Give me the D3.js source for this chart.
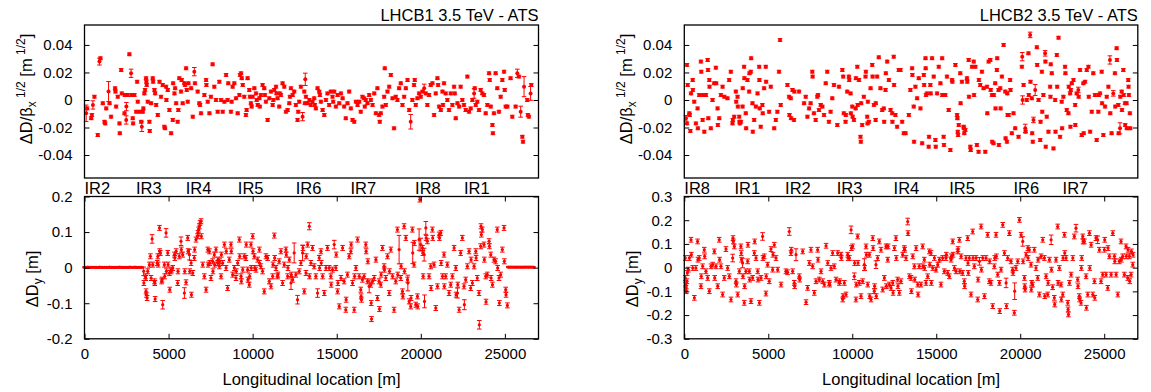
<!DOCTYPE html>
<html><head><meta charset="utf-8">
<script src="https://cdn.jsdelivr.net/npm/d3@7"></script>
<style>body{margin:0;background:#fff}svg{display:block}</style>
</head><body>
<script>
// ---------------- DATA ----------------
const xTicks = [0, 5000, 10000, 15000, 20000, 25000];
const topYTicks = [-0.04, -0.02, 0, 0.02, 0.04];
const b1vYTicks = [-0.2, -0.1, 0, 0.1, 0.2];
const b2vYTicks = [-0.3, -0.2, -0.1, 0, 0.1, 0.2, 0.3];
const irNamesB1 = ["IR2","IR3","IR4","IR5","IR6","IR7","IR8","IR1"];
const irPosB1 = [0, 3060, 6020, 9120, 12560, 15820, 19660, 22570];
const irNamesB2 = ["IR8","IR1","IR2","IR3","IR4","IR5","IR6","IR7"];
const irPosB2 = [0, 2990, 6000, 9070, 12460, 15770, 19600, 22520];
const titleB1 = "LHCB1 3.5 TeV - ATS";
const titleB2 = "LHCB2 3.5 TeV - ATS";
const xLabel = "Longitudinal location [m]";

// Beam 1, horizontal normalized dispersion beat
const b1hPos = [
100,160,400,440,500,590,790,890,950,1090,
1190,1230,1290,1430,1490,1580,1820,1840,1880,1980,
2080,2100,2180,2220,2380,2400,2480,2490,2570,2670,
2770,2790,2870,2890,2970,3070,3130,3170,3270,3370,
3410,3470,3500,3560,3600,3660,3680,3700,3760,3860,
3880,3960,4060,4080,4160,4200,4260,4360,4460,4550,
4650,4750,4790,4850,4870,4950,5050,5150,5250,5270,
5350,5390,5450,5540,5580,5640,5740,5780,5840,5940,
5980,6040,6080,6140,6180,6340,6440,6530,6570,6730,
6830,6870,6930,7130,7230,7250,7330,7430,7520,7620,
7720,7820,7920,8020,8120,8220,8320,8420,8510,8550,
8710,8750,8810,8910,9010,9110,9210,9250,9310,9350,
9410,9500,9600,9640,9700,9800,9840,9900,9940,10000,
10100,10200,10240,10300,10400,10430,10490,10590,10690,10730,
10790,10890,10990,11090,11190,11230,11290,11390,11420,11480,
11580,11620,11680,11780,11880,11980,12080,12180,12220,12280,
12380,12470,12570,12670,12710,12770,12870,12970,13070,13110,
13130,13170,13270,13370,13460,13560,13660,13700,13760,13860,
13960,14000,14060,14160,14260,14360,14450,14550,14650,14750,
14790,14850,14950,15050,15150,15250,15350,15440,15540,15640,
15740,15840,15940,16040,16140,16240,16340,16430,16530,16630,
16670,16730,16830,16930,17030,17130,17230,17330,17420,17520,
17560,17620,17720,17820,17860,17920,18020,18120,18220,18320,
18410,18510,18610,18710,18810,18910,19010,19110,19210,19310,
19400,19500,19600,19640,19700,19800,19900,20000,20100,20200,
20300,20390,20490,20590,20690,20790,20890,20990,21030,21090,
21190,21290,21320,21380,21480,21580,21680,21780,21880,21980,
22020,22080,22180,22280,22370,22470,22570,22670,22770,22870,
22970,23070,23170,23210,23270,23360,23460,23560,23660,23760,
23860,23960,24060,24100,24160,24260,24290,24350,24450,24550,
24650,24750,24850,24950,24990,25050,25150,25340,25440,25640,
25740,25840,25940,26040,26080,26140,26330,26370,26430,26530,
26570];
const b1hVal = [
-0.0097,-0.0061,-0.0133,-0.0109,-0.0036,0.0024,-0.0255,0.0279,0.0303,-0.0024,
-0.0158,-0.0170,-0.0061,0.0061,-0.0024,-0.0121,0.0085,0.0061,-0.0048,0.0024,
-0.0170,-0.0242,0.0218,0.0048,-0.0097,0.0036,-0.0145,-0.0048,0.0036,0.0332,
0.0194,0.0036,-0.0133,-0.0170,0.0036,-0.0085,0.0133,-0.0012,-0.0085,-0.0158,
-0.0194,-0.0085,-0.0061,0.0048,0.0073,0.0158,0.0133,0.0109,-0.0012,-0.0158,
-0.0225,-0.0024,0.0158,0.0133,0.0073,0.0048,-0.0036,-0.0109,0.0133,0.0024,
0.0109,-0.0194,-0.0206,0.0097,0,0.0073,-0.0073,-0.0242,-0.0145,0.0121,
0.0048,0.0085,-0.0024,-0.0158,-0.0073,0.0158,0.0061,0.0145,-0.0024,0.0121,
0.0109,0.0230,0.0073,-0.0012,0.0121,0.0085,-0.0121,0.0206,0.0121,0.0061,
-0.0024,-0.0036,-0.0097,0.0036,0.0145,0.0109,-0.0012,-0.0097,0.0024,0.0259,
0.0097,0,-0.0085,0.0133,0,-0.0085,-0.0012,0.0182,0,0.0121,
-0.0085,-0.0012,0.0097,0.0121,0.0012,-0.0097,0.0036,0.0182,0.0194,0.0158,
0.0109,0.0024,-0.0109,-0.0073,0.0158,0.0073,0.0024,-0.0024,-0.0048,0.0024,
0.0085,0.0048,0,-0.0036,0.0012,-0.0048,0.0036,0.0109,0.0085,0.0036,
-0.0012,-0.0145,0.0012,0.0061,-0.0036,0,0.0073,0.0097,0.0048,0.0012,
-0.0048,0.0048,0.0036,0.0121,0.0097,-0.0085,-0.0073,-0.0024,0.0024,0.0085,
0.0036,0.0061,-0.0036,-0.0145,-0.0085,-0.0012,0.0097,-0.0121,0.0061,-0.0024,
0.0150,0.0024,-0.0024,0,-0.0036,-0.0012,0.0012,-0.0036,-0.0061,0.0085,
0.0061,0.0036,-0.0012,-0.0073,-0.0109,0,0.0048,-0.0036,0.0061,0.0024,
-0.0012,0.0061,-0.0048,0.0036,-0.0024,0.0048,0.0012,-0.0048,-0.0133,-0.0024,
0.0061,-0.0061,-0.0145,-0.0158,-0.0012,-0.0036,-0.0012,-0.0085,0.0024,0.0012,
-0.0048,0,-0.0024,0.0036,0,-0.0036,0.0048,-0.0097,0.0085,-0.0109,
-0.0158,-0.0097,-0.0048,0.0024,0.0230,-0.0036,0.0061,0.0097,0.0182,0.0012,
-0.0206,0.0024,0,0.0085,0.0121,-0.0036,0.0024,0.0085,0.0145,-0.0073,
-0.0158,0,0.0109,0.0145,-0.0036,0.0012,0.0048,0.0024,0.0061,0.0085,
0.0048,-0.0036,0.0036,0.0109,0.0121,-0.0109,0.0048,0.0158,0.0109,-0.0048,
-0.0073,0.0061,-0.0036,0.0121,0.0048,0,-0.0073,0.0048,-0.0036,0.0097,
0.0048,-0.0133,-0.0024,-0.0048,0.0097,0,-0.0036,-0.0073,0.0170,-0.0085,
-0.0061,0,0.0048,0.0085,-0.0036,-0.0012,-0.0073,0.0073,0.0048,0.0036,
-0.0097,-0.0036,0.0194,0.0145,-0.0048,-0.0182,-0.0242,-0.0097,0.0194,0.0085,
-0.0085,0.0024,0.0145,0.0206,0.0073,-0.0048,-0.0048,0.0158,-0.0121,-0.0048,
0.0194,0.0170,-0.0085,-0.0267,-0.0303,0.0097,0,-0.0109,-0.0121,0.0048,
0.0109];
const b1hErr = [
0.006,0.001,0.001,0.001,0.003,0.001,0.001,0.0025,0.001,0.001,
0.001,0.001,0.001,0.0073,0.001,0.001,0.001,0.001,0.001,0.001,
0.001,0.001,0.001,0.001,0.001,0.001,0.003,0.003,0.001,0.001,
0.003,0.001,0.001,0.001,0.001,0.001,0.001,0.001,0.001,0.001,
0.0035,0.001,0.001,0.001,0.001,0.001,0.001,0.001,0.001,0.001,
0.001,0.001,0.001,0.001,0.001,0.001,0.001,0.001,0.001,0.001,
0.001,0.001,0.001,0.001,0.001,0.001,0.001,0.001,0.001,0.001,
0.001,0.001,0.001,0.001,0.001,0.001,0.001,0.001,0.001,0.001,
0.001,0.001,0.001,0.001,0.001,0.001,0.001,0.003,0.001,0.001,
0.001,0.001,0.001,0.001,0.001,0.001,0.001,0.001,0.001,0.001,
0.001,0.001,0.001,0.001,0.001,0.001,0.001,0.001,0.001,0.001,
0.001,0.001,0.001,0.001,0.001,0.001,0.001,0.001,0.001,0.001,
0.001,0.001,0.001,0.001,0.001,0.001,0.001,0.001,0.001,0.001,
0.001,0.001,0.001,0.001,0.001,0.001,0.001,0.001,0.001,0.001,
0.001,0.001,0.001,0.001,0.001,0.001,0.001,0.001,0.001,0.001,
0.001,0.001,0.001,0.001,0.001,0.001,0.001,0.001,0.001,0.001,
0.001,0.001,0.001,0.001,0.001,0.001,0.001,0.003,0.001,0.001,
0.0045,0.001,0.001,0.001,0.001,0.001,0.001,0.001,0.001,0.001,
0.001,0.001,0.001,0.001,0.001,0.001,0.001,0.001,0.001,0.001,
0.001,0.001,0.001,0.001,0.001,0.001,0.001,0.001,0.001,0.001,
0.001,0.001,0.001,0.001,0.001,0.001,0.001,0.001,0.001,0.001,
0.001,0.001,0.001,0.001,0.001,0.001,0.001,0.001,0.001,0.001,
0.001,0.001,0.001,0.001,0.001,0.001,0.001,0.001,0.001,0.001,
0.001,0.001,0.001,0.001,0.001,0.001,0.001,0.001,0.001,0.001,
0.0053,0.001,0.001,0.001,0.001,0.001,0.001,0.001,0.001,0.003,
0.001,0.001,0.001,0.001,0.001,0.001,0.001,0.001,0.001,0.001,
0.001,0.001,0.001,0.001,0.001,0.001,0.001,0.001,0.001,0.001,
0.001,0.001,0.001,0.001,0.001,0.001,0.001,0.001,0.001,0.001,
0.001,0.001,0.0035,0.001,0.001,0.001,0.001,0.001,0.001,0.001,
0.001,0.001,0.001,0.001,0.001,0.001,0.001,0.001,0.001,0.001,
0.001,0.001,0.001,0.001,0.001,0.001,0.001,0.001,0.001,0.001,
0.003,0.001,0.004,0.001,0.001,0.0073,0.001,0.001,0.001,0.005,
0.001];

// Beam 2, horizontal normalized dispersion beat
const b2hPos = [
100,160,160,200,300,320,360,400,500,510,
590,690,790,810,890,990,1010,1090,1110,1190,
1290,1390,1410,1430,1490,1500,1580,1680,1780,1880,
1900,1980,2000,2080,2180,2280,2380,2570,2670,2770,
2870,2890,2970,3070,3090,3170,3190,3270,3290,3310,
3370,3470,3480,3560,3580,3660,3680,3760,3860,3880,
3960,3980,4060,4080,4160,4260,4360,4460,4470,4490,
4550,4650,4670,4750,4850,4870,5050,5150,5350,5450,
5540,5640,5700,5740,6140,6240,6260,6340,6360,6440,
6530,6550,6830,7130,7230,7330,7430,7520,7620,7640,
7720,7820,7920,7960,8020,8120,8220,8320,8420,8510,
8610,8710,8810,8910,9110,9210,9410,9460,9500,9600,
9620,9700,9800,9820,9900,9920,10000,10020,10100,10200,
10220,10300,10320,10400,10490,10510,10530,10590,10690,10790,
10810,10890,10910,10930,10990,11090,11190,11210,11290,11390,
11400,11480,11580,11680,11780,11880,11900,11980,12000,12080,
12180,12280,12380,12390,12470,12490,12570,12670,12770,12870,
12970,13070,13170,13370,13460,13560,13580,13660,13680,13760,
13860,13960,14060,14160,14260,14280,14360,14370,14390,14450,
14550,14570,14650,14670,14750,14850,14950,14970,15050,15150,
15250,15350,15360,15440,15460,15540,15640,15740,15840,15940,
15960,16140,16240,16260,16280,16300,16340,16430,16450,16530,
16630,16650,16670,16730,16830,16850,16930,16950,17030,17050,
17130,17230,17250,17330,17420,17520,17540,17620,17720,17820,
17920,18020,18040,18120,18220,18240,18320,18330,18410,18430,
18510,18530,18610,18630,18710,18730,18810,18830,18910,19010,
19110,19130,19210,19230,19250,19310,19400,19420,19500,19600,
19700,19900,20100,20120,20140,20200,20300,20320,20390,20490,
20510,20590,20610,20690,20710,20750,20790,20890,20990,21010,
21090,21190,21210,21290,21310,21380,21480,21500,21520,21580,
21680,21780,21800,21820,21880,21980,22080,22100,22180,22200,
22280,22370,22470,22490,22570,22670,22690,22770,22870,22890,
22970,22990,23010,23070,23170,23270,23280,23360,23460,23480,
23560,23660,23760,23780,23860,23960,24060,24080,24160,24260,
24350,24450,24550,24650,24670,24750,24850,24870,24950,25050,
25150,25250,25340,25360,25440,25540,25640,25660,25740,25760,
25840,25860,25940,25960,26040,26060,26140,26160,26240,26250,
26330,26350,26430,26450,26470,26530,26550];
const b2hVal = [
-0.0133,-0.0170,0.0255,0.0109,-0.0097,-0.0109,-0.0225,0.0048,0.0145,0.0073,
-0.0012,-0.0170,-0.0061,-0.0206,0.0036,0.0279,0.0206,-0.0145,0.0036,-0.0230,
0.0036,0.0291,0.0218,-0.0133,0.0145,0.0097,-0.0206,0,0.0121,0.0235,
0.0121,-0.0061,-0.0182,-0.0133,0.0036,0.0097,0.0024,0.0012,0.0145,0.0206,
-0.0170,-0.0145,-0.0121,0.0061,-0.0012,0.0024,-0.0048,-0.0121,-0.0158,-0.0170,
-0.0158,-0.0048,0.0085,0.0242,0.0158,-0.0097,-0.0206,0.0145,0.0061,0.0194,
0.0206,0.0303,-0.0024,-0.0230,-0.0145,-0.0048,0.0048,0.0242,0.0145,-0.0061,
-0.0194,-0.0036,-0.0097,0.0085,0.0242,0.0133,-0.0085,0.0097,-0.0206,-0.0145,
-0.0085,0.0206,0.0436,-0.0036,0.0109,0.0024,-0.0109,0.0012,-0.0133,0.0073,
-0.0145,0.0061,0.0061,-0.0024,0.0024,-0.0121,-0.0061,-0.0024,0.0206,0.0170,
-0.0097,-0.0145,0.0024,0.0036,-0.0073,-0.0036,-0.0048,-0.0109,0.0121,0.0206,
-0.0158,-0.0085,0.0012,0.0109,-0.0182,0.0097,0.0218,0.0170,-0.0097,-0.0158,
-0.0109,0.0061,0.0170,0.0145,0.0048,-0.0097,-0.0048,-0.0121,-0.0145,-0.0061,
0.0158,0.0242,-0.0036,0.0145,-0.0267,-0.0303,-0.0024,-0.0182,0.0024,0.0170,
0.0206,-0.0121,-0.0170,-0.0012,-0.0158,0.0085,0.0255,0.0170,-0.0036,-0.0145,
-0.0024,0.0170,0.0310,0.0085,-0.0073,-0.0061,-0.0158,0.0073,0.0194,0.0279,
0.0145,-0.0073,-0.0097,-0.0158,0.0315,0.0109,-0.0109,-0.0194,0.0218,0.0218,
-0.0158,-0.0242,-0.0242,-0.0109,0.0073,0.0230,0.0182,-0.0048,-0.0303,0.0097,
0.0012,0.0158,-0.0061,-0.0315,0.0182,0.0109,0.0303,0.0230,0.0036,0.0048,
-0.0339,-0.0267,0.0109,0.0048,0.0303,0.0170,-0.0291,-0.0339,0.0048,0.0242,
0.0121,0.0303,0.0036,-0.0267,-0.0327,0.0036,0.0170,-0.0073,-0.0364,0.0145,
0.0133,0.0255,-0.0109,-0.0133,-0.0230,-0.0255,-0.0182,0.0194,-0.0024,0.0133,
-0.0194,-0.0206,-0.0242,-0.0218,0.0158,0.0133,0.0291,0.0024,-0.0339,-0.0364,
0.0242,0.0279,0.0036,0.0242,-0.0327,-0.0376,0.0145,0.0109,0.0206,0.0085,
-0.0376,0.0097,-0.0097,0.0279,0.0291,0.0073,0.0036,-0.0303,-0.0315,0.0036,
0.0121,-0.0061,0.0218,0.0303,0.0073,-0.0327,0.0085,-0.0061,0.0170,0.0400,
0.0061,-0.0279,-0.0303,0.0048,-0.0109,-0.0109,0.0145,0.0073,-0.0242,-0.0097,
-0.0206,-0.0267,0.0242,0.0315,0,0.0109,-0.0206,-0.0230,0,0.0339,
0.0036,0.0473,0.0133,0.0012,-0.0242,-0.0303,-0.0145,0.0073,0.0383,0.0255,
0,-0.0291,-0.0158,0.0206,-0.0085,0.0036,0.0339,0.0279,-0.0339,-0.0121,
-0.0230,0.0097,0.0024,0.0259,0.0194,-0.0352,0,-0.0230,0.0327,0.0097,
0.0453,-0.0267,-0.0012,-0.0206,0.0024,0.0242,0.0194,-0.0073,-0.0097,0.0097,
0.0048,-0.0194,0.0073,0.0121,0.0145,-0.0036,-0.0182,0.0048,0.0073,0.0024,
0.0218,-0.0255,0.0121,-0.0242,0.0133,0.0218,0.0242,0.0024,-0.0230,-0.0085,
0.0194,0.0036,-0.0291,-0.0085,0.0036,0.0048,0.0206,-0.0024,-0.0255,-0.0048,
0.0024,0.0097,0.0291,-0.0097,-0.0242,0.0048,0.0194,-0.0048,0.0376,0.0291,
-0.0036,-0.0242,-0.0206,0.0024,0.0061,-0.0073,0.0218,0.0036,-0.0024,-0.0182,
-0.0024,-0.0206,0.0145,0.0097,0.0036,-0.0097,-0.0206];
const b2hErr = [
0.002,0.001,0.001,0.001,0.001,0.001,0.001,0.001,0.001,0.001,
0.001,0.001,0.001,0.001,0.001,0.001,0.001,0.001,0.001,0.001,
0.001,0.001,0.001,0.001,0.001,0.001,0.001,0.001,0.001,0.001,
0.001,0.001,0.001,0.001,0.001,0.001,0.001,0.001,0.001,0.001,
0.001,0.001,0.001,0.001,0.001,0.001,0.001,0.001,0.001,0.001,
0.001,0.001,0.001,0.001,0.001,0.001,0.001,0.001,0.001,0.001,
0.001,0.001,0.001,0.001,0.001,0.001,0.001,0.001,0.001,0.001,
0.001,0.001,0.001,0.001,0.001,0.001,0.001,0.001,0.001,0.001,
0.001,0.001,0.001,0.001,0.001,0.001,0.001,0.001,0.001,0.001,
0.001,0.001,0.001,0.001,0.001,0.001,0.001,0.001,0.001,0.001,
0.001,0.001,0.001,0.001,0.001,0.001,0.001,0.001,0.001,0.001,
0.001,0.001,0.001,0.001,0.001,0.001,0.001,0.001,0.001,0.001,
0.001,0.001,0.001,0.001,0.001,0.001,0.001,0.001,0.001,0.001,
0.001,0.001,0.001,0.001,0.001,0.001,0.001,0.001,0.001,0.001,
0.001,0.001,0.001,0.001,0.001,0.001,0.001,0.001,0.001,0.001,
0.001,0.001,0.001,0.001,0.001,0.001,0.001,0.001,0.001,0.001,
0.001,0.001,0.001,0.001,0.001,0.001,0.001,0.001,0.001,0.001,
0.001,0.001,0.001,0.001,0.001,0.001,0.001,0.001,0.001,0.001,
0.001,0.001,0.001,0.001,0.001,0.001,0.001,0.001,0.001,0.001,
0.001,0.001,0.001,0.001,0.001,0.001,0.001,0.001,0.001,0.001,
0.001,0.001,0.001,0.001,0.001,0.001,0.001,0.001,0.001,0.001,
0.001,0.001,0.001,0.001,0.001,0.001,0.001,0.001,0.001,0.001,
0.001,0.001,0.001,0.001,0.001,0.001,0.001,0.001,0.001,0.001,
0.001,0.001,0.001,0.001,0.001,0.001,0.001,0.001,0.001,0.001,
0.001,0.001,0.001,0.001,0.001,0.001,0.001,0.001,0.001,0.001,
0.001,0.001,0.001,0.001,0.001,0.001,0.001,0.001,0.001,0.001,
0.001,0.001,0.001,0.001,0.001,0.001,0.001,0.001,0.001,0.001,
0.001,0.001,0.001,0.003,0.003,0.001,0.003,0.001,0.001,0.001,
0.001,0.002,0.001,0.001,0.001,0.001,0.002,0.004,0.001,0.001,
0.001,0.001,0.001,0.001,0.001,0.001,0.002,0.001,0.001,0.001,
0.001,0.001,0.001,0.001,0.001,0.001,0.001,0.001,0.001,0.001,
0.001,0.001,0.001,0.001,0.001,0.001,0.001,0.001,0.001,0.001,
0.001,0.001,0.001,0.001,0.001,0.001,0.001,0.001,0.002,0.001,
0.001,0.001,0.001,0.001,0.001,0.001,0.001,0.001,0.001,0.001,
0.001,0.001,0.001,0.001,0.001,0.001,0.001,0.001,0.001,0.001,
0.001,0.001,0.003,0.001,0.001,0.002,0.001,0.001,0.001,0.001,
0.001,0.001,0.004,0.001,0.001,0.001,0.001,0.001,0.001,0.001,
0.001,0.001,0.001,0.001,0.001,0.001,0.001];

// Beam 1, vertical dispersion beat
const b1vPos = [
0,100,200,300,400,500,600,700,800,900,
1000,1100,1200,1300,1400,1500,1600,1700,1800,1900,
2000,2100,2200,2300,2400,2500,2600,2700,2800,2900,
3000,3100,3200,3300,3400,
3520,3530,3620,3640,3660,3680,3720,3760,3860,3920,
3960,4020,4060,4160,4180,4200,4320,4360,4380,4460,
4470,4510,4590,4610,4650,4750,4770,4850,4870,4950,
4970,5050,5070,5150,5170,5250,5350,5370,5450,5540,
5560,5640,5740,5760,5840,5940,5960,6040,6140,6160,
6240,6260,6340,6360,6440,6530,6550,6630,6730,6750,
6790,6830,6870,6930,6950,7030,7130,7230,7330,7350,
7430,7450,7520,7620,7640,7720,7740,7820,7920,7940,
8020,8040,8120,8140,8220,8320,8420,8430,8510,8610,
8710,8730,8810,8910,9010,9030,9110,9210,9230,9310,
9330,9410,9500,9600,9620,9700,9720,9800,9820,9900,
9920,10000,10020,10100,10120,10200,10300,10400,10410,10490,
10590,10690,10790,10890,10990,11090,11190,11210,11290,11310,
11390,11480,11500,11580,11680,11780,11880,11980,12000,12080,
12100,12180,12280,12300,12380,12470,12570,12670,12770,12870,
12970,12990,13070,13170,13190,13270,13370,13380,13460,13560,
13660,13760,13860,13960,13980,14060,14080,14160,14260,14360,
14450,14550,14650,14670,14750,14850,14950,14970,15050,15070,
15150,15250,15350,15440,15540,15560,15640,15740,15840,15860,
15940,16040,16060,16140,16240,16340,16430,16450,16470,16530,
16630,16730,16750,16830,16850,16930,17030,17050,17070,17130,
17230,17330,17420,17520,17540,17620,17640,17720,17820,17840,
17920,18020,18120,18140,18220,18320,18410,18510,18610,18630,
18710,18810,18830,18910,18930,19010,19030,19110,19210,19230,
19310,19400,19420,19500,19520,19600,19620,19700,19800,19820,
19900,19940,20000,20100,20120,20140,20200,20220,20300,20320,
20390,20490,20590,20610,20690,20710,20790,20890,20990,21090,
21110,21190,21210,21290,21380,21400,21480,21580,21680,21780,
21880,21980,22080,22100,22180,22200,22280,22370,22470,22570,
22590,22670,22770,22870,22970,22990,23070,23170,23270,23290,
23360,23460,23480,23560,23580,23600,23660,23760,23780,23860,
23880,23960,24060,24080,24160,24180,24260,24350,24450,24550,
24570,24650,24670,24750,24850,24950,24970,25050,25070,25150,
25200,25300,25400,25500,25600,25700,25800,25900,26000,26100,
26200,26300,26400,26500,26600,26700];
const b1vVal = [
0.0010,0.0008,0.0012,0.0005,0.0009,0.0011,0.0007,0.0010,0.0004,0.0012,
0.0009,0.0006,0.0011,0.0008,0.0010,0.0013,0.0007,0.0009,0.0005,0.0011,
0.0008,0.0012,0.0010,0.0006,0.0009,0.0011,0.0007,0.0013,0.0010,0.0008,
0.0012,0.0006,0.0009,0.0011,0.0008,
-0.0103,-0.0432,-0.0244,-0.0291,-0.0667,-0.0761,-0.0854,-0.0103,0.0085,0.0319,
-0.0291,0.0808,0.0085,-0.0385,-0.0432,-0.0883,0.0131,0.0319,0.0085,0.1117,
0.0460,0.0413,-0.0385,-0.0338,-0.1042,0.0085,-0.0244,0.0977,-0.0103,0.0413,
0.0085,-0.0150,-0.0620,-0.0103,-0.0056,-0.0009,0.0366,0.0272,0.0460,-0.0432,
-0.0103,0.0319,0.0742,0.0507,0.0366,-0.0714,-0.0103,-0.0413,0.0836,0.0460,
0.0366,-0.0103,0.0131,-0.0761,-0.0150,0.0272,0.0507,0.0789,0.0883,0.0977,
0.1070,0.1164,0.1258,0.1305,0.0883,0.0085,-0.0244,-0.0620,0.0507,0.0085,
0.0460,0.0131,-0.0291,0.0178,-0.0103,0.0366,0.0085,0.0507,0.0131,0.0225,
0.0038,0.0178,-0.0244,0.0366,0.0131,0.0648,-0.0009,0.0460,-0.0573,0.0225,
0.0648,0.0460,-0.0197,-0.0009,-0.0291,-0.0103,0.0131,0.0789,0.0319,-0.0244,
-0.0385,-0.0056,0.0319,0.0272,0.0648,-0.0056,-0.0338,-0.0479,-0.0244,0.0648,
-0.0009,0.0883,0.0460,0.0319,-0.0009,-0.0056,0.0225,0.0507,0.0131,0.0038,
-0.0103,-0.0667,0.0319,0.0272,-0.0385,-0.0526,-0.0244,0.0085,0.0901,0.0272,
-0.0009,-0.0244,-0.0197,0.0178,0.0460,-0.0432,0.0085,0.0507,0.0366,-0.0244,
-0.0009,0.0225,-0.0432,-0.0197,-0.0338,0.0413,-0.0197,-0.0901,-0.0103,0.0131,
0.0413,0.0554,-0.0667,-0.0150,0.0319,0.0648,0.1164,-0.0244,0.0131,0.0554,
0.0038,-0.0244,-0.0714,0.0272,-0.0009,0.0460,0.0131,-0.0244,-0.0714,-0.0009,
0.0554,-0.0009,-0.0244,-0.0479,-0.0056,0.0648,-0.0009,0.0366,-0.0667,-0.0432,
-0.1089,-0.0291,0.0554,-0.0385,-0.1183,-0.0901,-0.0197,0.0319,0.0460,0.0648,
-0.0432,-0.1183,-0.0244,-0.0009,0.0789,-0.0244,-0.0620,-0.0808,-0.0901,-0.0338,
-0.0244,0.0648,0.0460,-0.0385,0.0178,-0.0526,-0.0479,-0.0995,-0.1446,-0.0385,
-0.0291,0.0225,-0.0854,-0.0385,-0.1164,-0.0479,-0.0197,0.0554,0.0038,-0.0056,
-0.0291,0.0319,-0.0714,-0.0103,0.0507,-0.0244,-0.1183,-0.0385,0.1070,-0.0197,
0.0507,-0.0291,0.0038,-0.0667,-0.0808,0.1164,-0.0103,0.0836,-0.0338,-0.0432,
-0.0948,-0.1089,-0.0854,0.1070,0.0413,0.0085,0.0695,-0.1042,-0.0808,-0.1089,
0.0789,0.1915,0.0648,0.0554,0.0413,-0.0244,0.0366,-0.0948,0.1117,0.0836,
0.0742,-0.0244,0.0038,-0.0573,0.1070,0.0836,0.0085,-0.1136,-0.0526,0.0930,
0.0836,0.0977,0.0131,-0.0244,0.0366,-0.0526,-0.0244,0.0085,-0.0714,-0.0479,
-0.0244,0.0554,-0.0009,-0.0761,-0.0714,-0.0479,-0.1183,0.0413,0.0836,-0.0526,
-0.1042,-0.0338,0.0038,0.0460,-0.0573,0.0225,-0.0432,0.0038,0.0460,0.0272,
-0.0291,-0.0714,-0.1606,0.0601,0.1164,0.0930,0.1070,0.0648,0.0225,-0.0244,
-0.0958,-0.0197,0.0742,0.0601,0.0366,-0.0291,-0.0479,0.0225,0.0178,0.1070,
-0.0009,-0.0291,-0.0995,-0.0197,0.0507,0.1117,0.0178,-0.0620,-0.0761,-0.1061,
0.0015,0.0012,0.0018,0.0014,0.0016,0.0013,0.0017,0.0015,0.0012,0.0016,
0.0014,0.0018,0.0013,0.0015,0.0017,0.0014];
const b1vErr = [
0.0015,0.0015,0.0015,0.0015,0.0015,0.0015,0.0015,0.0015,0.0015,0.0015,
0.0015,0.0015,0.0015,0.0015,0.0015,0.0015,0.0015,0.0015,0.0015,0.0015,
0.0015,0.0015,0.0015,0.0015,0.0015,0.0015,0.0015,0.0015,0.0015,0.0015,
0.0015,0.0015,0.0015,0.0015,0.0015,
0.012,0.007,0.007,0.007,0.007,0.007,0.007,0.007,0.007,0.007,
0.007,0.012,0.007,0.007,0.007,0.007,0.007,0.007,0.007,0.007,
0.007,0.007,0.007,0.007,0.012,0.007,0.007,0.012,0.007,0.007,
0.007,0.007,0.007,0.007,0.007,0.007,0.007,0.007,0.007,0.007,
0.007,0.007,0.012,0.007,0.007,0.015,0.007,0.007,0.007,0.007,
0.015,0.007,0.007,0.007,0.007,0.007,0.007,0.007,0.007,0.007,
0.007,0.007,0.007,0.007,0.007,0.007,0.007,0.007,0.007,0.007,
0.007,0.007,0.007,0.007,0.007,0.007,0.007,0.007,0.007,0.007,
0.007,0.007,0.007,0.007,0.007,0.007,0.007,0.007,0.007,0.007,
0.007,0.007,0.007,0.007,0.007,0.007,0.007,0.007,0.007,0.007,
0.007,0.007,0.007,0.007,0.007,0.007,0.007,0.007,0.007,0.007,
0.007,0.007,0.007,0.007,0.007,0.007,0.007,0.007,0.007,0.007,
0.007,0.007,0.007,0.007,0.007,0.007,0.007,0.007,0.007,0.007,
0.007,0.007,0.007,0.007,0.007,0.007,0.007,0.007,0.007,0.007,
0.007,0.007,0.018,0.007,0.007,0.028,0.007,0.012,0.007,0.007,
0.022,0.007,0.007,0.007,0.007,0.007,0.010,0.007,0.007,0.007,
0.007,0.007,0.012,0.007,0.007,0.007,0.007,0.007,0.007,0.007,
0.007,0.007,0.007,0.007,0.007,0.012,0.007,0.007,0.007,0.007,
0.007,0.007,0.007,0.007,0.007,0.007,0.007,0.007,0.007,0.007,
0.007,0.007,0.007,0.007,0.007,0.007,0.007,0.007,0.007,0.007,
0.007,0.007,0.007,0.007,0.007,0.018,0.007,0.007,0.007,0.007,
0.007,0.007,0.007,0.007,0.007,0.007,0.007,0.007,0.007,0.007,
0.007,0.007,0.007,0.007,0.007,0.007,0.007,0.007,0.007,0.007,
0.040,0.007,0.007,0.007,0.007,0.007,0.007,0.007,0.007,0.022,
0.007,0.007,0.007,0.007,0.030,0.007,0.007,0.007,0.007,0.007,
0.030,0.007,0.018,0.007,0.007,0.007,0.018,0.018,0.018,0.007,
0.007,0.007,0.007,0.007,0.007,0.007,0.007,0.007,0.007,0.007,
0.007,0.007,0.007,0.007,0.007,0.007,0.007,0.007,0.007,0.007,
0.007,0.007,0.007,0.007,0.014,0.007,0.007,0.007,0.007,0.007,
0.014,0.007,0.007,0.007,0.007,0.007,0.007,0.007,0.007,0.007,
0.007,0.007,0.012,0.007,0.007,0.007,0.007,0.007,0.007,0.007,
0.007,0.007,0.007,0.007,0.007,0.007,0.007,0.007,0.007,0.007,
0.007,0.007,0.007,0.007,0.007,0.007,0.007,0.007,0.007,0.007,
0.0015,0.0015,0.0015,0.0015,0.0015,0.0015,0.0015,0.0015,0.0015,0.0015,
0.0015,0.0015,0.0015,0.0015,0.0015,0.0015];

// Beam 2, vertical dispersion beat
const b2vPos = [
60,60,80,100,120,160,180,240,300,400,
420,500,600,690,790,810,890,990,1010,1090,
1190,1210,1290,1390,1490,1590,1690,1790,1810,1890,
1990,2080,2100,2180,2280,2380,2480,2580,2680,2780,
2880,2900,2920,2980,3080,3100,3180,3280,3370,3390,
3410,3470,3490,3570,3590,3670,3770,3790,3870,3890,
3970,4070,4170,4190,4270,4370,4390,4470,4570,4660,
4680,4760,4860,4880,4960,5060,5160,5260,5280,5360,
5460,5560,5760,6050,6150,6250,6350,6370,6450,6550,
6570,6650,6850,6870,7050,7250,7340,7440,7540,7640,
7740,7840,7940,7960,8040,8140,8240,8340,8440,8540,
8630,8650,8730,8830,8930,9030,9130,9230,9250,9330,
9350,9430,9450,9530,9630,9730,9750,9830,9930,9950,
10020,10120,10140,10220,10240,10320,10340,10420,10520,10620,
10720,10740,10820,10840,10920,11020,11040,11120,11220,11240,
11310,11330,11410,11430,11510,11610,11710,11810,11910,12010,
12030,12110,12130,12210,12310,12410,12430,12510,12600,12620,
12700,12720,12800,12900,13000,13100,13120,13200,13300,13320,
13400,13500,13520,13600,13700,13720,13800,13900,13920,13990,
14090,14190,14210,14290,14310,14390,14490,14590,14610,14690,
14710,14790,14890,14990,15090,15190,15280,15380,15480,15580,
15600,15680,15780,15880,15900,15980,16000,16080,16180,16280,
16300,16380,16400,16480,16570,16670,16690,16770,16870,16890,
16910,16970,17070,17170,17190,17270,17370,17470,17490,17570,
17670,17690,17770,17870,17960,18060,18160,18180,18260,18360,
18460,18480,18560,18580,18660,18760,18780,18860,18960,19060,
19160,19180,19250,19350,19450,19550,19570,19650,19670,19750,
19850,19950,20050,20150,20170,20250,20270,20290,20350,20450,
20470,20540,20640,20660,20680,20740,20840,20940,21040,21060,
21140,21240,21340,21440,21460,21540,21640,21660,21740,21840,
21860,21930,22030,22050,22130,22230,22250,22330,22430,22450,
22530,22550,22630,22650,22730,22830,22850,22870,22930,23030,
23130,23220,23320,23420,23440,23520,23540,23620,23640,23660,
23720,23740,23820,23920,23940,24020,24120,24140,24220,24320,
24420,24440,24510,24610,24710,24810,24910,25010,25030,25110,
25210,25230,25310,25410,25510,25610,25630,25710,25810,25900,
26000,26020,26100,26200,26300,26320,26400,26420,26500,26520,
26600,26620,26700,26720];
const b2vVal = [
0.0406,-0.0434,-0.0713,-0.0853,-0.0993,-0.0573,-0.0224,-0.0084,0.0406,0.1175,
0.0545,-0.0014,-0.1273,-0.0014,0.1105,0.0336,0.0406,-0.0783,-0.0364,0.0056,
0.0755,0.0476,-0.0154,-0.0434,-0.0993,0.0056,0.0126,0.0685,-0.0434,0.0056,
-0.0783,0.1175,0.0336,0.0056,-0.1133,-0.0434,0.0783,-0.0014,-0.0364,-0.1343,
0.0406,0.1245,0.1105,0.0895,-0.0573,-0.0713,-0.1133,-0.0154,0.0895,0.0615,
0.0336,0.0196,-0.0364,-0.1483,-0.0783,-0.0154,0.0266,0.0965,-0.0154,-0.0503,
-0.1413,-0.0434,0.0615,0.1105,0.0406,-0.0154,-0.0503,-0.1483,-0.0434,0.1315,
0.0406,0.0476,-0.1091,-0.0364,0.0126,-0.0573,0.0783,-0.0084,0.0545,0.0965,
0.0406,-0.0084,-0.0713,-0.0154,-0.0196,0.1524,0.0615,0.0755,-0.0154,-0.0643,
-0.0783,0.0545,-0.0364,-0.0503,0.0685,-0.1455,-0.0853,0.0196,0.0755,0.0056,
-0.1063,-0.0573,0.0755,0.0336,-0.0503,-0.0154,-0.0573,-0.0713,0.0923,0.0196,
-0.0643,-0.0713,-0.0014,0.0615,0.0056,-0.0503,0.0615,-0.0643,-0.0573,0.0545,
0.0406,-0.1343,-0.1203,-0.0643,-0.1133,0.0545,0.0406,0.0406,0.1594,0.0825,
0.0895,-0.0364,0.0196,-0.1343,-0.0713,0.1315,0.0196,-0.0643,-0.1203,-0.0573,
0.0126,-0.0014,0.0895,0.0545,-0.0713,0.0545,-0.1203,-0.1343,0.1245,0.0825,
-0.0993,-0.0783,0.0126,-0.1203,0.0406,0.1105,0.0755,-0.0923,-0.0434,0.0895,
-0.0783,0.0336,0.0895,-0.0713,-0.0853,-0.0643,-0.1063,0.0825,0.1245,0.0406,
-0.0503,-0.0783,-0.1063,-0.0573,0.0545,0.0825,0.0755,0.0406,0.1944,0.1455,
-0.0364,-0.0434,-0.0993,0.0476,0.0056,-0.0503,0.0825,-0.0713,-0.1133,0.0056,
-0.0713,0.0895,0.0056,0.0336,-0.0014,-0.0643,-0.0364,0.0685,0.0126,0.0615,
-0.0643,-0.0014,0.0406,-0.0084,0.0126,0.0336,-0.0713,0.0406,-0.0154,0.0406,
0.0545,-0.0224,-0.0364,0.0336,0.0476,0.1105,0.0545,-0.0014,-0.0154,0.0685,
0.0783,0.1175,-0.0154,0.0476,-0.0224,-0.0573,-0.0783,0.0406,0.1245,0.0196,
-0.0224,0.0406,-0.1133,0.1524,0.0406,0.0056,0.0406,-0.1343,-0.0503,0.0266,
0.1734,-0.0084,0.0406,-0.1203,0.0406,0.1385,-0.0573,0.0266,-0.0643,-0.1622,
0.0056,0.0406,0.1385,0.0476,-0.0294,-0.0643,-0.1832,-0.0084,0.1804,0.0615,
-0.0643,-0.1622,0.0406,0.1455,0.0266,-0.0084,-0.0224,-0.1902,-0.0993,-0.0014,
0.0266,0.2014,0.1385,0.1105,0.0266,-0.0434,-0.0783,-0.0923,0.0545,0.0825,
0.0406,0.0755,0.0126,-0.0923,-0.0643,-0.0713,0.0755,-0.0014,-0.0434,0.0336,
-0.1133,0.0476,0.1175,0.0406,-0.1203,-0.0364,-0.1133,-0.0643,0.0336,0.1175,
-0.0084,-0.0825,-0.1273,-0.1552,0.0336,0.1734,-0.0643,-0.0014,-0.0713,-0.1343,
-0.1133,0.0406,0.1385,0.0615,0.0406,-0.1483,-0.1762,-0.1972,-0.0643,-0.0294,
0.0406,0.1315,0.1664,-0.0503,-0.0783,-0.1203,-0.1343,-0.1483,-0.0014,0.0406,
0.1315,0.1105,0.1105,-0.0364,-0.1692,-0.1133,0.1455,-0.0014,0.0965,-0.1133,
-0.0573,-0.1273,0.1245,0.1175,0.0755,-0.0573,-0.0294,0.0755,0.1175,-0.0294,
-0.0853,0.0825,0.0476,-0.0294,0.1455,0.0476,0.0266,-0.0294,-0.1133,0.0266,
0.1105,0.0336,0.0476,-0.0294,0.0895,0.0476,-0.0434,0.0755,0.0476,-0.0573,
-0.0294,0.0685,0.0126,0.0545];
const b2vErr = [
0.010,0.010,0.010,0.010,0.010,0.010,0.010,0.010,0.010,0.010,
0.010,0.010,0.010,0.010,0.010,0.010,0.010,0.010,0.010,0.010,
0.010,0.010,0.010,0.010,0.010,0.010,0.010,0.010,0.010,0.010,
0.010,0.010,0.010,0.010,0.010,0.010,0.010,0.010,0.010,0.010,
0.016,0.010,0.010,0.010,0.010,0.010,0.010,0.010,0.010,0.010,
0.010,0.020,0.010,0.010,0.010,0.010,0.010,0.010,0.010,0.010,
0.010,0.010,0.010,0.010,0.010,0.010,0.010,0.010,0.010,0.016,
0.010,0.010,0.010,0.010,0.010,0.010,0.010,0.010,0.010,0.010,
0.010,0.010,0.010,0.010,0.010,0.016,0.010,0.010,0.010,0.010,
0.010,0.025,0.010,0.010,0.010,0.010,0.010,0.010,0.010,0.010,
0.010,0.010,0.010,0.010,0.010,0.010,0.010,0.010,0.010,0.010,
0.010,0.010,0.010,0.010,0.010,0.010,0.010,0.010,0.010,0.010,
0.010,0.010,0.010,0.010,0.010,0.010,0.010,0.010,0.016,0.010,
0.010,0.014,0.010,0.010,0.010,0.010,0.010,0.010,0.010,0.010,
0.025,0.010,0.010,0.010,0.010,0.010,0.010,0.010,0.010,0.010,
0.010,0.010,0.016,0.010,0.010,0.010,0.010,0.010,0.010,0.010,
0.010,0.010,0.010,0.010,0.010,0.010,0.010,0.010,0.010,0.010,
0.010,0.010,0.010,0.010,0.010,0.010,0.010,0.010,0.014,0.010,
0.010,0.010,0.010,0.010,0.010,0.010,0.010,0.010,0.010,0.010,
0.010,0.010,0.010,0.010,0.010,0.010,0.010,0.010,0.010,0.010,
0.010,0.010,0.010,0.010,0.010,0.010,0.010,0.010,0.010,0.010,
0.010,0.010,0.010,0.010,0.010,0.010,0.010,0.010,0.010,0.010,
0.010,0.010,0.010,0.010,0.010,0.010,0.010,0.010,0.010,0.010,
0.010,0.010,0.010,0.010,0.010,0.010,0.010,0.010,0.010,0.016,
0.010,0.010,0.010,0.010,0.010,0.010,0.010,0.010,0.010,0.010,
0.010,0.010,0.010,0.010,0.010,0.010,0.010,0.010,0.010,0.010,
0.020,0.010,0.010,0.010,0.010,0.010,0.010,0.010,0.035,0.010,
0.010,0.010,0.010,0.020,0.010,0.010,0.010,0.010,0.010,0.010,
0.010,0.010,0.010,0.010,0.010,0.010,0.010,0.010,0.010,0.010,
0.010,0.010,0.010,0.010,0.010,0.010,0.010,0.010,0.010,0.020,
0.010,0.010,0.010,0.010,0.010,0.010,0.010,0.010,0.010,0.010,
0.010,0.010,0.010,0.010,0.010,0.010,0.010,0.010,0.010,0.010,
0.010,0.010,0.016,0.010,0.010,0.010,0.010,0.010,0.010,0.010,
0.010,0.010,0.010,0.010,0.010,0.010,0.010,0.010,0.010,0.010,
0.010,0.010,0.010,0.016,0.010,0.010,0.010,0.010,0.010,0.010,
0.010,0.010,0.010,0.010,0.010,0.010,0.010,0.010,0.010,0.010,
0.010,0.010,0.010,0.010,0.010,0.010,0.010,0.010,0.010,0.010,
0.010,0.010,0.010,0.010];

// ---------------- DRAWING ----------------
const W = 1151, H = 392;
const FONT = '"Liberation Sans", Arial, Helvetica, sans-serif';
const RED = "#ff0000";
const TICK_FS = 15, LABEL_FS = 16.5, SUB_FS = 12;
const svg = d3.select("body").append("svg").attr("width", W).attr("height", H)
  .attr("font-family", FONT);

let dbg = 0;
function panel(c) {
  const x = d3.scaleLinear().domain([0, 27000]).range([c.x0, c.x1]);
  const y = d3.scaleLinear().domain(c.yDomain).range([c.y1, c.y0]);
  const g = svg.append("g");
  if (c.pos.length !== c.val.length || c.pos.length !== c.err.length) {
    svg.append("text").attr("x", 5).attr("y", 12 + 12 * (dbg++)).attr("fill", "blue").attr("font-size", 11)
      .text(c.name + ": " + c.pos.length + "/" + c.val.length + "/" + c.err.length);
  }
  const n = Math.min(c.pos.length, c.val.length, c.err.length);
  const idx = d3.range(n);
  const cw = 2.3;
  g.append("g").selectAll("path").data(idx).join("path")
    .attr("d", i => {
      const px = x(c.pos[i]), a = y(c.val[i] + c.err[i]), b = y(c.val[i] - c.err[i]);
      return `M${px - cw},${a}H${px + cw}M${px},${a}V${b}M${px - cw},${b}H${px + cw}`;
    })
    .attr("fill", "none").attr("stroke", RED).attr("stroke-width", 1);
  g.append("g").selectAll("circle").data(idx).join("circle")
    .attr("cx", i => x(c.pos[i])).attr("cy", i => y(c.val[i])).attr("r", c.r)
    .attr("fill", RED);

  const fmt = d => String(+d.toFixed(3));
  g.append("g").attr("transform", `translate(${c.x0},0)`)
    .call(d3.axisLeft(y).tickValues(c.yTicks).tickSize(-5).tickPadding(12).tickFormat(fmt));
  g.append("g").attr("transform", `translate(${c.x1},0)`)
    .call(d3.axisRight(y).tickValues(c.yTicks).tickSize(-5).tickFormat(""));
  if (c.xAxis) {
    g.append("g").attr("transform", `translate(0,${c.y1})`)
      .call(d3.axisBottom(x).tickValues(xTicks).tickSize(-5).tickPadding(10).tickFormat(fmt));
    g.append("g").attr("transform", `translate(0,${c.y0})`)
      .call(d3.axisTop(x).tickValues(xTicks).tickSize(-5).tickFormat(""));
  }
  g.selectAll(".domain").remove();
  g.selectAll(".tick line").attr("stroke", "#000").attr("stroke-width", 1);
  g.selectAll(".tick text").attr("fill", "#000").attr("font-size", TICK_FS).attr("font-family", FONT);
  g.append("rect").attr("x", c.x0).attr("y", c.y0).attr("width", c.x1 - c.x0)
    .attr("height", c.y1 - c.y0).attr("fill", "none").attr("stroke", "#000").attr("stroke-width", 1.3);

  if (c.irNames) {
    svg.append("g").selectAll("text").data(c.irNames).join("text")
      .attr("x", (d, i) => x(c.irPos[i])).attr("y", 194).attr("font-size", LABEL_FS)
      .attr("text-anchor", "start").text(d => d);
  }
  return { x, y };
}

const L = { x0: 84.5, x1: 538.5 }, R = { x0: 684.3, x1: 1137.8 };
const TOP = { y0: 25, y1: 178 }, BOT = { y0: 196.5, y1: 338.8 };

panel({ name: "b1h", ...L, ...TOP, yDomain: [-0.0567, 0.0545], yTicks: topYTicks,
  pos: b1hPos, val: b1hVal, err: b1hErr, r: 2, xAxis: false });
panel({ name: "b2h", ...R, ...TOP, yDomain: [-0.0567, 0.0545], yTicks: topYTicks,
  pos: b2hPos, val: b2hVal, err: b2hErr, r: 2, xAxis: false });
panel({ name: "b1v", ...L, ...BOT, yDomain: [-0.2, 0.2], yTicks: b1vYTicks,
  pos: b1vPos, val: b1vVal, err: b1vErr, r: 1.6, xAxis: true, irNames: irNamesB1, irPos: irPosB1 });
panel({ name: "b2v", ...R, ...BOT, yDomain: [-0.3, 0.3], yTicks: b2vYTicks,
  pos: b2vPos, val: b2vVal, err: b2vErr, r: 1.6, xAxis: true, irNames: irNamesB2, irPos: irPosB2 });

// titles
svg.append("text").attr("x", L.x1).attr("y", 21).attr("text-anchor", "end").attr("font-size", LABEL_FS).text(titleB1);
svg.append("text").attr("x", R.x1).attr("y", 21).attr("text-anchor", "end").attr("font-size", LABEL_FS).text(titleB2);

// x labels
[L, R].forEach(p => {
  svg.append("text").attr("x", (p.x0 + p.x1) / 2).attr("y", 385).attr("text-anchor", "middle")
    .attr("font-size", LABEL_FS).text(xLabel);
});

// y labels
function yLabelTop(bx, cy) {
  const t = svg.append("text").attr("transform", `translate(${bx},${cy}) rotate(-90)`)
    .attr("text-anchor", "middle").attr("font-size", LABEL_FS);
  t.append("tspan").text("ΔD/β");
  t.append("tspan").attr("dy", 4).attr("font-size", SUB_FS).text("x");
  t.append("tspan").attr("dy", -11).attr("font-size", SUB_FS).text(" 1/2");
  t.append("tspan").attr("dy", 7).text(" [m");
  t.append("tspan").attr("dy", -7).attr("font-size", SUB_FS).text(" 1/2");
  t.append("tspan").attr("dy", 7).text("]");
}
function yLabelBot(bx, cy) {
  const t = svg.append("text").attr("transform", `translate(${bx},${cy}) rotate(-90)`)
    .attr("text-anchor", "middle").attr("font-size", LABEL_FS);
  t.append("tspan").text("ΔD");
  t.append("tspan").attr("dy", 4).attr("font-size", SUB_FS).text("y");
  t.append("tspan").attr("dy", -4).text(" [m]");
}
yLabelTop(32, 89);
yLabelTop(632, 89);
yLabelBot(37.5, 279);
yLabelBot(637.5, 279);
</script>
</body></html>
